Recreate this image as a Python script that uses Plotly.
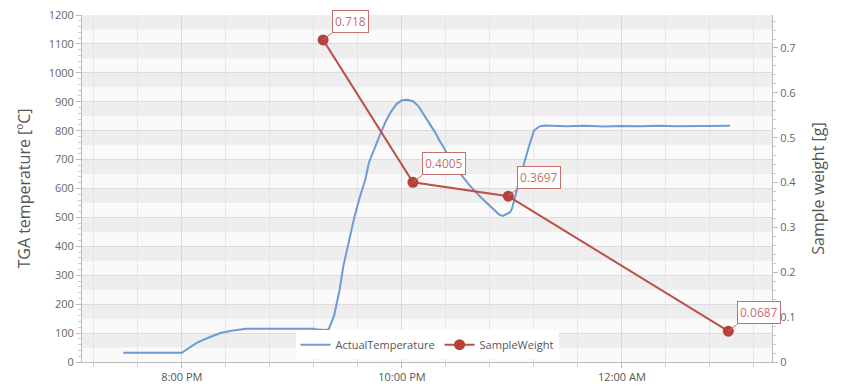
import plotly.graph_objects as go

# Temperature series (ActualTemperature)
temp_times = [
    "2020-01-01 19:28", "2020-01-01 19:40", "2020-01-01 19:48", "2020-01-01 19:55",
    "2020-01-01 20:00", "2020-01-01 20:03", "2020-01-01 20:08", "2020-01-01 20:14",
    "2020-01-01 20:21", "2020-01-01 20:27", "2020-01-01 20:32", "2020-01-01 20:35",
    "2020-01-01 21:12", "2020-01-01 21:14", "2020-01-01 21:19", "2020-01-01 21:20",
    "2020-01-01 21:23", "2020-01-01 21:26", "2020-01-01 21:28", "2020-01-01 21:31",
    "2020-01-01 21:34", "2020-01-01 21:37", "2020-01-01 21:40", "2020-01-01 21:42",
    "2020-01-01 21:45", "2020-01-01 21:48", "2020-01-01 21:51", "2020-01-01 21:54",
    "2020-01-01 21:57", "2020-01-01 22:00", "2020-01-01 22:03", "2020-01-01 22:06",
    "2020-01-01 22:09", "2020-01-01 22:13", "2020-01-01 22:18", "2020-01-01 22:21",
    "2020-01-01 22:23", "2020-01-01 22:27", "2020-01-01 22:32", "2020-01-01 22:37",
    "2020-01-01 22:43", "2020-01-01 22:48", "2020-01-01 22:53", "2020-01-01 22:55",
    "2020-01-01 22:57", "2020-01-01 22:59", "2020-01-01 23:00", "2020-01-01 23:02",
    "2020-01-01 23:05", "2020-01-01 23:09", "2020-01-01 23:12", "2020-01-01 23:15",
    "2020-01-01 23:18", "2020-01-01 23:30", "2020-01-01 23:40", "2020-01-01 23:50",
    "2020-01-02 00:00", "2020-01-02 00:10", "2020-01-02 00:20", "2020-01-02 00:30",
    "2020-01-02 00:40", "2020-01-02 00:50", "2020-01-02 00:59",
]
temp_values = [
    32, 32, 30, 30,
    32, 45, 66, 83,
    100, 108, 113, 115,
    115, 112, 111, 113,
    160, 250, 330, 420,
    500, 570, 630, 690,
    740, 785, 830, 865,
    892, 905, 907, 902,
    885, 845, 795, 760,
    740, 690, 650, 610,
    570, 540, 510, 505,
    512, 518, 530, 580,
    650, 740, 800, 815,
    818, 815, 817, 814,
    816, 815, 817, 815,
    816, 817, 817,
]

# Sample weight series
weight_times = ["2020-01-01 21:17", "2020-01-01 22:06", "2020-01-01 22:58", "2020-01-02 00:58"]
weight_values = [0.718, 0.4005, 0.3697, 0.0687]
weight_labels = ["0.718", "0.4005", "0.3697", "0.0687"]

left_ticks = list(range(0, 1300, 100))
right_ticks = [0, 0.1, 0.2, 0.3, 0.4, 0.5, 0.6, 0.7]
right_ticktext = ["0", "0.1", "0.2", "0.3", "0.4", "0.5", "0.6", "0.7"]

blue = "#6f9bd1"
red = "#bf4f48"
label_red = "#c4706b"
font_family = "Open Sans, DejaVu Sans, sans-serif"

fig = go.Figure()
fig.add_trace(go.Scatter(
    x=temp_times, y=temp_values, name="ActualTemperature", mode="lines",
    line=dict(color=blue, width=2), yaxis="y",
))
fig.add_trace(go.Scatter(
    x=weight_times, y=weight_values, name="SampleWeight", mode="lines+markers",
    line=dict(color=red, width=2), marker=dict(color="#b5413a", size=11),
    yaxis="y2",
))

# alternating background bands
shapes = []
for lo in range(50, 1200, 100):
    shapes.append(dict(type="rect", xref="paper", yref="y", x0=0, x1=1, y0=lo, y1=lo + 50,
                       fillcolor="#eeeeee", line=dict(width=0), layer="below"))

annotations = []
for t, v, lab in zip(weight_times, weight_values, weight_labels):
    annotations.append(dict(
        x=t, y=v, xref="x", yref="y2", text=lab, showarrow=True,
        ax=9, ay=-7, xanchor="left", yanchor="bottom", arrowhead=0, arrowwidth=1,
        arrowcolor=label_red, standoff=0, startstandoff=0,
        bgcolor="white", bordercolor=label_red, borderwidth=1, borderpad=2,
        font=dict(size=12, color=label_red, family=font_family),
    ))

fig.update_layout(
    width=835, height=381,
    margin=dict(l=74, r=71, t=7, b=27, autoexpand=False),
    paper_bgcolor="white", plot_bgcolor="#fafafa",
    font=dict(family=font_family, color="#555555", size=11),
    showlegend=True,
    legend=dict(orientation="h", x=0.5, xanchor="center", y=0.05, yanchor="middle",
                bgcolor="white", font=dict(size=11, color="#555555"),
                itemwidth=30, tracegroupgap=0),
    shapes=shapes,
    annotations=annotations,
    xaxis=dict(
        type="date", automargin=False,
        range=["2020-01-01 19:05:30", "2020-01-02 01:21:50"],
        tick0="2020-01-01 20:00", dtick=7200000, tickformat="%-I:%M %p",
        showgrid=True, gridcolor="#d9d9d9", gridwidth=1,
        ticks="outside", ticklen=5, tickcolor="#bbbbbb",
        showline=True, linecolor="#bbbbbb", zeroline=False,
        tickfont=dict(size=11, color="#555555"),
        minor=dict(tick0="2020-01-01 20:00", dtick=1440000, showgrid=True,
                   gridcolor="#e6e6e6", ticks="outside", ticklen=4, tickcolor="#cccccc"),
    ),
    yaxis=dict(
        range=[0, 1200], tickvals=left_ticks, automargin=False, ticklabeloverflow="allow",
        title=dict(text="TGA temperature [ºC]", font=dict(size=16, color="#555555"), standoff=14),
        showgrid=True, gridcolor="#dcdcdc",
        ticks="outside", ticklen=5, tickcolor="#bbbbbb",
        showline=True, linecolor="#bbbbbb", zeroline=False,
        tickfont=dict(size=11, color="#666666"),
        minor=dict(dtick=20, ticks="outside", ticklen=3, tickcolor="#cccccc", showgrid=False),
    ),
    yaxis2=dict(
        overlaying="y", side="right", automargin=False, ticklabeloverflow="allow",
        range=[0, 0.7735], tickvals=right_ticks, ticktext=right_ticktext,
        title=dict(text="Sample weight [g]", font=dict(size=16, color="#555555"), standoff=17),
        showgrid=False,
        ticks="outside", ticklen=5, tickcolor="#bbbbbb",
        showline=True, linecolor="#bbbbbb", zeroline=False,
        tickfont=dict(size=11, color="#666666"),
        minor=dict(dtick=0.02, ticks="outside", ticklen=3, tickcolor="#cccccc", showgrid=False),
    ),
)

fig.write_html("out.html")
